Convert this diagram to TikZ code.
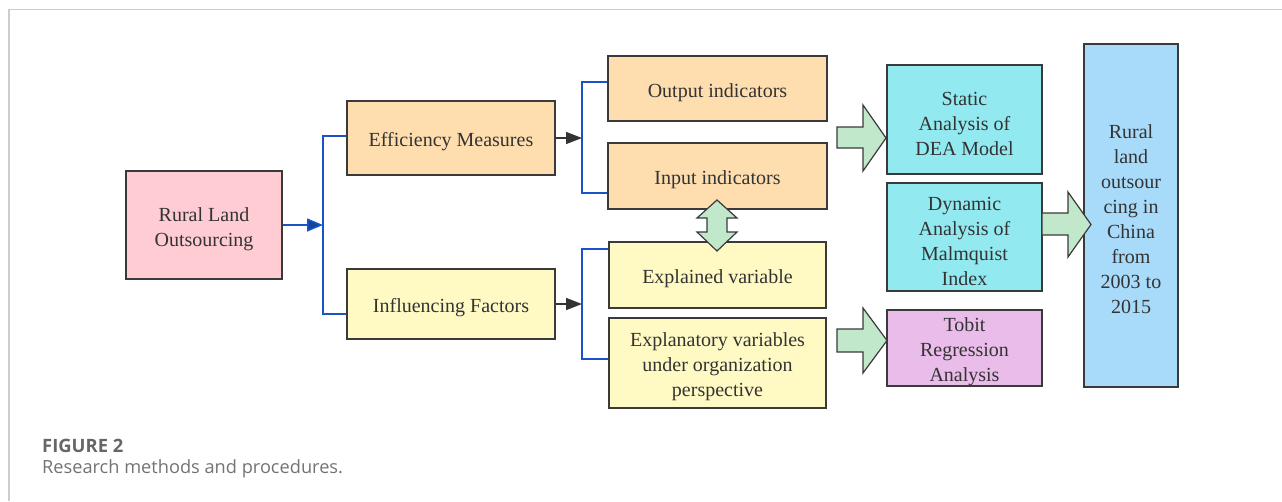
\documentclass[tikz,border=0pt]{standalone}
\usepackage{fontspec}
\setmainfont{Liberation Serif}
\newfontfamily\capfont{Open Sans}
\usetikzlibrary{arrows.meta}

\definecolor{bordo}{RGB}{58,58,58}
\definecolor{testo}{RGB}{51,51,51}
\definecolor{rosa}{RGB}{255,204,211}
\definecolor{arancio}{RGB}{254,221,174}
\definecolor{giallo}{RGB}{255,250,196}
\definecolor{ciano}{RGB}{146,234,240}
\definecolor{viola}{RGB}{234,188,234}
\definecolor{azzurro}{RGB}{168,218,250}
\definecolor{verde}{RGB}{194,232,204}
\definecolor{blu}{RGB}{24,84,200}
\definecolor{cornice}{RGB}{205,205,205}

\tikzset{
    blocco/.style={draw=bordo, line width=1.4pt, inner sep=0pt},
    scritta/.style={inner sep=0pt, align=center, text=testo, yshift=-4pt,
        font=\fontsize{20}{25}\selectfont},
    ramo/.style={draw=blu, line width=1.5pt},
    frecciablu/.style={draw=blu, line width=1.5pt, -{Triangle[length=16pt,width=13pt,fill=blu!80!black]}},
    freccianera/.style={draw=testo, line width=1.5pt, -{Triangle[length=16pt,width=12pt]}},
    grossa/.style={draw=bordo, fill=verde, line width=1.2pt, line join=miter}
}

\begin{document}
\begin{tikzpicture}[x=1pt,y=-1pt]
        \useasboundingbox (0,0) rectangle (1282,501);

        %%%%%%%%%% Cornice %%%%%%%%%%
        \draw[cornice, line width=1.5pt] (9,501) -- (9,9.5) -- (1282,9.5);

        %%%%%%%%%% Blocchi %%%%%%%%%%
        \node[blocco, fill=rosa, minimum width=156pt, minimum height=108pt] (rlo) at (204,225) {};

        \node[blocco, fill=arancio, minimum width=208pt, minimum height=74pt] (eff) at (451,138) {};
        \node[blocco, fill=giallo, minimum width=208pt, minimum height=70pt] (inf) at (451,304) {};

        \node[blocco, fill=arancio, minimum width=219pt, minimum height=65pt] (outp) at (717.5,88.5) {};
        \node[blocco, fill=arancio, minimum width=219pt, minimum height=66pt] (inp) at (717.5,176) {};
        \node[blocco, fill=giallo, minimum width=217pt, minimum height=66pt] (expd) at (717.5,275) {};
        \node[blocco, fill=giallo, minimum width=217pt, minimum height=90pt] (expy) at (717.5,363) {};

        \node[blocco, fill=ciano, minimum width=155pt, minimum height=109pt] (sta) at (964.5,119.5) {};
        \node[blocco, fill=ciano, minimum width=155pt, minimum height=108pt] (dyn) at (964.5,237) {};
        \node[blocco, fill=viola, minimum width=155pt, minimum height=76pt] (tob) at (964.5,348) {};

        \node[blocco, fill=azzurro, minimum width=94pt, minimum height=343pt] (res) at (1131,215.5) {};

        %%%%%%%%%% Testo %%%%%%%%%%
        \node[scritta] (rlo-t) at (rlo) {Rural Land\\Outsourcing};
        \node[scritta] (eff-t) at (eff) {Efficiency Measures};
        \node[scritta] (inf-t) at (inf) {Influencing Factors};
        \node[scritta] (outp-t) at (outp) {Output indicators};
        \node[scritta] (inp-t) at (inp) {Input indicators};
        \node[scritta] (expd-t) at (expd) {Explained variable};
        \node[scritta] (expy-t) at (expy) {Explanatory variables\\under organization\\perspective};
        \node[scritta] (sta-t) at (sta) {Static\\Analysis of\\DEA Model};
        \node[scritta] (dyn-t) at (dyn) {Dynamic\\Analysis of\\Malmquist\\Index};
        \node[scritta] (tob-t) at (tob) {Tobit\\Regression\\Analysis};
        \node[scritta] (res-t) at (res) {Rural\\land\\outsour\\cing in\\China\\from\\2003 to\\2015};

        %%%%%%%%%% Collegamenti %%%%%%%%%%
        \coordinate (b0) at (323,225);
        \coordinate (b1) at (582,138);
        \coordinate (b2) at (582,304);

        \draw[ramo] ([yshift=2pt]eff.west) -| (b0) |- ([yshift=-10pt]inf.west);
        \draw[ramo] ([yshift=6.5pt]outp.west) -| (b1) |- ([yshift=-17pt]inp.west);
        \draw[ramo] ([yshift=26pt]expd.west) -| (b2) |- ([yshift=4pt]expy.west);

        \draw[frecciablu] (rlo.east) -- (b0);
        \draw[freccianera] (eff.east) -- (b1);
        \draw[freccianera] (inf.east) -- (b2);

        %%%%%%%%%% Frecce grosse %%%%%%%%%%
        \draw[grossa] (717,200) -- (737,218) -- (727,218) -- (727,232) -- (737,232) -- (717,251)
            -- (697,232) -- (707,232) -- (707,218) -- (697,218) -- cycle;
        \draw[grossa] (837,127) -- ++(26,0) -- ++(0,-22) -- ++(23,33) -- ++(-23,33) -- ++(0,-23) -- ++(-26,0) -- cycle;
        \draw[grossa] (837,329) -- ++(26,0) -- ++(0,-21) -- ++(24,32.5) -- ++(-24,32.5) -- ++(0,-21) -- ++(-26,0) -- cycle;
        \draw[grossa] (1042,213) -- ++(26,0) -- ++(0,-21) -- ++(23,32.5) -- ++(-23,32.5) -- ++(0,-22) -- ++(-26,0) -- cycle;

        %%%%%%%%%% Didascalia %%%%%%%%%%
        \node[anchor=base west, inner sep=0pt, text=black!60, font=\capfont\bfseries\fontsize{18.4}{21}\selectfont] (fig) at (42,452) {FIGURE 2};
        \node[anchor=base west, inner sep=0pt, text=black!55, font=\capfont\fontsize{18.2}{21}\selectfont] (cap) at (42,473) {Research methods and procedures.};
\end{tikzpicture}
\end{document}
